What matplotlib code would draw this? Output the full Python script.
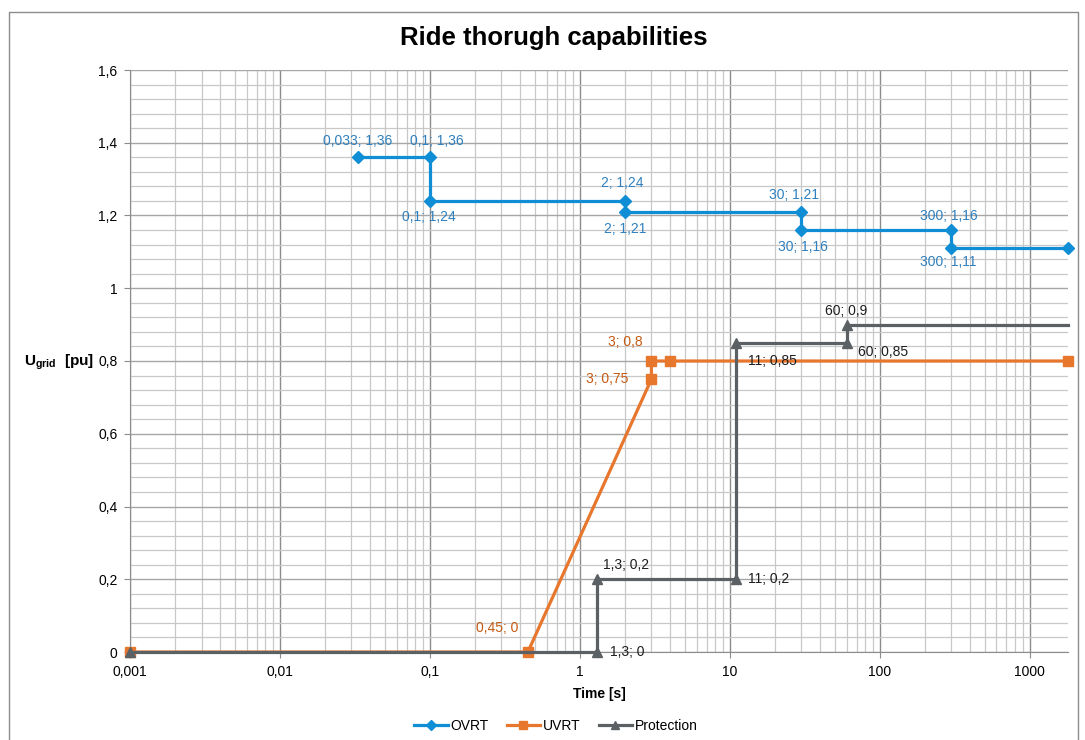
import matplotlib
matplotlib.use("Agg")
import matplotlib.pyplot as plt
import numpy as np
from matplotlib.patches import Rectangle
from matplotlib.ticker import FixedLocator, FuncFormatter, MultipleLocator, NullFormatter

plt.rcParams['font.family'] = ['Liberation Sans', 'DejaVu Sans']
plt.rcParams['mathtext.fontset'] = 'custom'
plt.rcParams['mathtext.rm'] = 'Liberation Sans'
plt.rcParams['mathtext.bf'] = 'Liberation Sans:bold'

# Curves: time [s] and voltage [pu]
ovrt_t = [0.033, 0.1, 0.1, 2, 2, 30, 30, 300, 300, 1800]
ovrt_u = [1.36, 1.36, 1.24, 1.24, 1.21, 1.21, 1.16, 1.16, 1.11, 1.11]

uvrt_t = [0.001, 0.45, 3, 3, 4, 1800]
uvrt_u = [0, 0, 0.75, 0.8, 0.8, 0.8]

prot_t = [0.001, 1.3, 1.3, 11, 11, 60, 60, 1800]
prot_u = [0, 0, 0.2, 0.2, 0.85, 0.85, 0.9, 0.9]

# which points get a data label, and where (pixel offset, alignment)
ovrt_lbl = {0: (0, 16, 'center'), 1: (7, 16, 'center'), 2: (-1, -16, 'center'),
            3: (-3, 18, 'center'), 4: (0, -17, 'center'), 5: (-7, 17, 'center'),
            6: (2, -17, 'center'), 7: (-3, 14, 'center'), 8: (-3, -14, 'center')}
uvrt_lbl = {1: (-9, 24, 'right'), 2: (-23, 0, 'right'), 3: (-9, 19, 'right')}
prot_lbl = {1: (13, 0, 'left'), 2: (6, 14, 'left'), 3: (12, 0, 'left'),
            4: (12, -18, 'left'), 5: (11, -9, 'left'), 6: (0, 14, 'center')}

blue = '#0f8ed6'
orange = '#e8772e'
gray = '#5a6064'


def fmt_num(v):
    s = ('%g' % v).replace('.', ',')
    return s


fig = plt.figure(figsize=(10.85, 7.4), dpi=100)
ax = fig.add_axes([130 / 1085, 1 - 652 / 740, 938 / 1085, 582 / 740])

ax.set_xscale('log')
ax.set_xlim(0.001, 1800)
ax.set_ylim(0, 1.6)

ax.yaxis.set_major_locator(MultipleLocator(0.2))
ax.yaxis.set_minor_locator(MultipleLocator(0.04))
ax.yaxis.set_major_formatter(FuncFormatter(lambda v, p: fmt_num(round(v, 2))))
ax.xaxis.set_major_locator(FixedLocator([0.001, 0.01, 0.1, 1, 10, 100, 1000]))
minors = [m * 10.0 ** e for e in range(-3, 4) for m in range(2, 10)]
ax.xaxis.set_minor_locator(FixedLocator(minors))
ax.xaxis.set_minor_formatter(NullFormatter())
ax.xaxis.set_major_formatter(FuncFormatter(lambda v, p: fmt_num(v)))

ax.grid(which='minor', color='#c8c8c8', lw=0.9)
ax.grid(which='major', axis='x', color='#8c8c8c', lw=1.0)
ax.grid(which='major', axis='y', color='#a6a6a6', lw=1.0)
ax.set_axisbelow(True)

ax.tick_params(which='major', length=4, color='#8c8c8c', labelsize=10,
               direction='out', pad=5)
ax.tick_params(which='minor', length=0)
for sp in ['top', 'right']:
    ax.spines[sp].set_visible(False)
ax.spines['left'].set_color('#8c8c8c')
ax.spines['bottom'].set_color('#8c8c8c')

ax.plot(ovrt_t, ovrt_u, color=blue, lw=2.3, marker='D', ms=6, label='OVRT',
        zorder=3, clip_on=False)
ax.plot(uvrt_t, uvrt_u, color=orange, lw=2.3, marker='s', ms=7, label='UVRT',
        zorder=3, clip_on=False)
ax.plot(prot_t, prot_u, color=gray, lw=2.3, marker='^', ms=7.5,
        markevery=list(range(len(prot_t) - 1)), label='Protection', zorder=4,
        clip_on=False)


def put_labels(ts, us, lbl, col):
    for i, (dx, dy, ha) in lbl.items():
        ax.annotate('%s; %s' % (fmt_num(ts[i]), fmt_num(us[i])), (ts[i], us[i]),
                    xytext=(dx, dy), textcoords='offset pixels', ha=ha,
                    va='center', fontsize=10, color=col, zorder=6)


put_labels(ovrt_t, ovrt_u, ovrt_lbl, '#2f80bf')
put_labels(uvrt_t, uvrt_u, uvrt_lbl, '#c55a11')
put_labels(prot_t, prot_u, prot_lbl, '#1e1e1e')

ax.set_xlabel('Time [s]', fontsize=10, fontweight='bold', labelpad=6)
fig.text(24 / 1085, 1 - 362 / 740, r'$\mathbf{U_{grid}}$  $\mathbf{[pu]}$',
         fontsize=11, ha='left', va='center')
fig.suptitle('Ride thorugh capabilities', x=554 / 1085, y=1 - 38 / 740,
             fontsize=18.5, fontweight='bold', va='center')

fig.legend(loc='center', bbox_to_anchor=(556 / 1085, 1 - 726 / 740), ncol=3,
           frameon=False, fontsize=10, handlelength=2.4, columnspacing=1.3,
           handletextpad=0.2, markerscale=0.8)

fig.patches.append(Rectangle((9 / 1085, -0.02), 1069 / 1085, 1 - 12 / 740 + 0.02,
                             transform=fig.transFigure, fill=False,
                             edgecolor='#8c8c8c', lw=1))

fig.savefig('out.png', dpi=100)
